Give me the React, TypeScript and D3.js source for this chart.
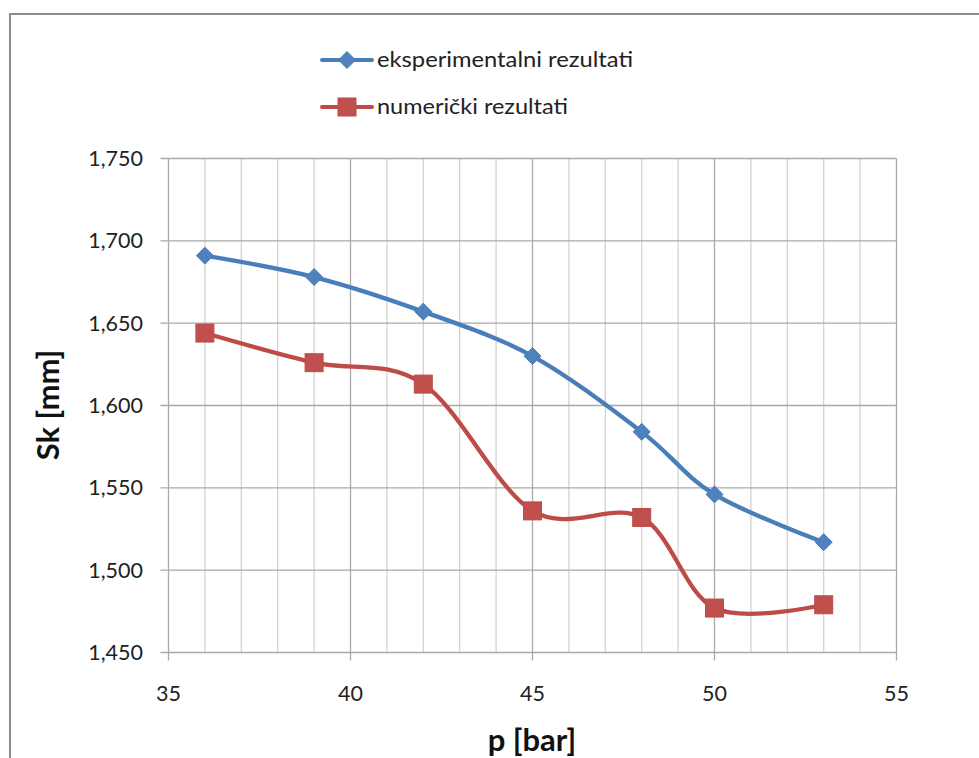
import React from 'react';
import * as d3 from 'd3';

const pressure = [36, 39, 42, 45, 48, 50, 53];
const experimental = [1.691, 1.678, 1.657, 1.630, 1.584, 1.546, 1.517];
const numerical = [1.644, 1.626, 1.613, 1.536, 1.532, 1.477, 1.479];
const xTicks = [35, 40, 45, 50, 55];
const yTicks = [1.45, 1.5, 1.55, 1.6, 1.65, 1.7, 1.75];
const seriesNames = ['eksperimentalni rezultati', 'numerički rezultati'];
const xTitle = 'p [bar]';
const yTitle = 'Sk [mm]';

const W = 979;
const H = 758;
const FONT = 'Lato, "Open Sans", sans-serif';
const BLUE = '#4a7ebb';
const BLUE_M = '#4f81bd';
const RED = '#be4b48';
const RED_M = '#c0504d';

export default function App() {
  const x = d3.scaleLinear().domain([35, 55]).range([168.5, 896.5]);
  const y = d3.scaleLinear().domain([1.45, 1.75]).range([652.5, 158.5]);
  const line = d3
    .line<number>()
    .x((_, i) => x(pressure[i]))
    .y((d) => y(d))
    .curve(d3.curveCardinal.tension(0));

  const minor = d3.range(36, 55).filter((v) => v % 5 !== 0);
  const fmt = (v: number) => v.toFixed(3).replace('.', ',');

  const diamond = (cx: number, cy: number, r: number) =>
    `M${cx},${cy - r}L${cx + r},${cy}L${cx},${cy + r}L${cx - r},${cy}Z`;

  return (
    <svg
      width={W}
      height={H}
      style={{ position: 'absolute', left: 0, top: 0, background: '#fff' }}
      fontFamily={FONT}
    >
      <rect x={0} y={0} width={W} height={H} fill="#fff" />
      {/* chart border */}
      <path d={`M10,${H + 5}L10,14L${W + 5},14`} fill="none" stroke="#8c8c8c" strokeWidth={2} />

      {/* minor vertical gridlines */}
      {minor.map((v) => (
        <line key={'m' + v} x1={x(v)} x2={x(v)} y1={y(1.75)} y2={y(1.45)} stroke="#cfcfcf" strokeWidth={1.2} />
      ))}
      {/* major vertical gridlines */}
      {xTicks.map((v) => (
        <line key={'M' + v} x1={x(v)} x2={x(v)} y1={y(1.75)} y2={y(1.45) + 8} stroke="#a9a9a9" strokeWidth={1.3} />
      ))}
      {/* horizontal gridlines + y ticks */}
      {yTicks.map((v) => (
        <line key={'h' + v} x1={x(35) - 8} x2={x(55)} y1={y(v)} y2={y(v)} stroke="#a9a9a9" strokeWidth={1.3} />
      ))}

      {/* y tick labels */}
      {yTicks.map((v) => (
        <text key={'yl' + v} x={143} y={y(v) + 7.5} textAnchor="end" fontSize={21.5} fill="#222">
          {fmt(v)}
        </text>
      ))}
      {/* x tick labels */}
      {xTicks.map((v) => (
        <text key={'xl' + v} x={x(v)} y={701} textAnchor="middle" fontSize={21.5} fill="#222">
          {v}
        </text>
      ))}

      {/* axis titles */}
      <text x={532} y={751} textAnchor="middle" fontSize={31} fontWeight="bold" fill="#111">
        {xTitle}
      </text>
      <text
        transform={`translate(59,405) rotate(-90)`}
        textAnchor="middle"
        fontSize={31}
        fontWeight="bold"
        fill="#111"
      >
        {yTitle}
      </text>

      {/* series lines */}
      <path d={line(experimental) || ''} fill="none" stroke={BLUE} strokeWidth={4.3} strokeLinejoin="round" strokeLinecap="round" />
      <path d={line(numerical) || ''} fill="none" stroke={RED} strokeWidth={4.3} strokeLinejoin="round" strokeLinecap="round" />

      {/* markers */}
      {experimental.map((v, i) => (
        <path key={'d' + i} d={diamond(x(pressure[i]), y(v), 8.5)} fill={BLUE_M} stroke={BLUE} strokeWidth={1} />
      ))}
      {numerical.map((v, i) => (
        <rect key={'s' + i} x={x(pressure[i]) - 9} y={y(v) - 9} width={18} height={18} fill={RED_M} stroke={RED} strokeWidth={1} />
      ))}

      {/* legend */}
      <g>
        <line x1={322} x2={372} y1={60} y2={60} stroke={BLUE} strokeWidth={4} strokeLinecap="round" />
        <path d={diamond(347, 60, 8.5)} fill={BLUE_M} stroke={BLUE} strokeWidth={1} />
        <text x={377} y={67} fontSize={21} fill="#222" textLength={256} lengthAdjust="spacingAndGlyphs">
          {seriesNames[0]}
        </text>
        <line x1={322} x2={372} y1={107} y2={107} stroke={RED} strokeWidth={4} strokeLinecap="round" />
        <rect x={338} y={98} width={18} height={18} fill={RED_M} stroke={RED} strokeWidth={1} />
        <text x={377} y={114} fontSize={21} fill="#222" textLength={191} lengthAdjust="spacingAndGlyphs">
          {seriesNames[1]}
        </text>
      </g>
    </svg>
  );
}
